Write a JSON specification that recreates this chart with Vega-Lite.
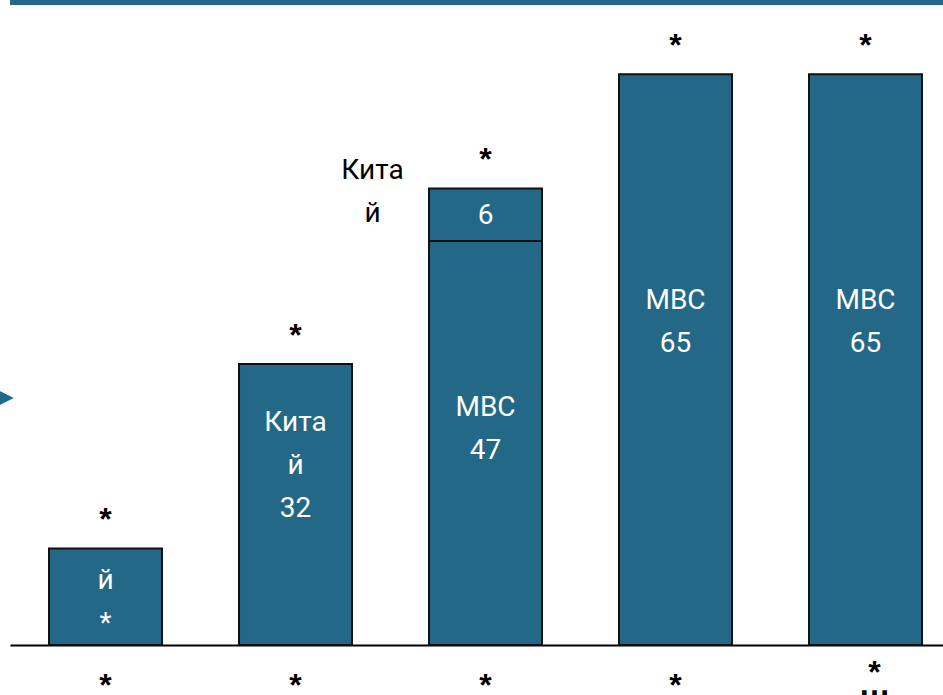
{
  "$schema": "https://vega.github.io/schema/vega-lite/v6.json",
  "width": 933,
  "height": 645,
  "autosize": {"type": "none"},
  "padding": {"left": 10, "top": 0, "right": 0, "bottom": 50},
  "background": "white",
  "config": {"view": {"stroke": null}},
  "data": {
    "values": [
      {"cat": "A", "seg": 1, "value": 11, "label": "Кита\nй\n*", "note": ""},
      {"cat": "B", "seg": 1, "value": 32, "label": "Кита\nй\n32", "note": ""},
      {"cat": "C", "seg": 1, "value": 46, "label": "МВС\n47", "note": ""},
      {"cat": "C", "seg": 2, "value": 6, "label": "6", "note": "Кита\nй"},
      {"cat": "D", "seg": 1, "value": 65, "label": "МВС\n65", "note": ""},
      {"cat": "E", "seg": 1, "value": 65, "label": "МВС\n65", "note": ""}
    ]
  },
  "transform": [
    {"stack": "value", "groupby": ["cat"], "sort": [{"field": "seg", "order": "ascending"}], "as": ["lo", "hi"]},
    {"calculate": "(datum.lo + datum.hi) / 2", "as": "mid"}
  ],
  "layer": [
    {
      "mark": {"type": "bar", "color": "#246888", "stroke": "#111111", "strokeWidth": 2},
      "encoding": {
        "x": {
          "field": "cat", "type": "nominal",
          "scale": {"domain": ["A", "B", "C", "D", "E"], "range": [0, 951], "paddingInner": 0.4053, "paddingOuter": 0.2053},
          "axis": {
            "title": null, "domain": true, "domainColor": "#000000", "domainWidth": 2,
            "ticks": false, "tickSize": 0, "grid": false,
            "labelExpr": "datum.value == 'E' ? ['*', '…'] : '*'",
            "labelFont": "Liberation Sans", "labelFontWeight": "bold", "labelFontSize": 32,
            "labelColor": "#000000", "labelAngle": 0, "labelLineHeight": 12,
            "labelOffset": {"condition": {"test": "datum.value == 'E'", "value": 9}, "value": 0},
            "labelPadding": {"condition": {"test": "datum.value == 'E'", "value": 12}, "value": 25}
          }
        },
        "y": {
          "field": "lo", "type": "quantitative",
          "scale": {"domain": [0, 73.46], "nice": false, "zero": true},
          "axis": {
            "title": null, "values": [28.25], "labelExpr": "'▶'", "domain": false,
            "ticks": false, "tickSize": 0, "grid": false,
            "labelFont": "DejaVu Sans", "labelFontSize": 19, "labelColor": "#246888", "labelPadding": -3
          }
        },
        "y2": {"field": "hi"}
      }
    },
    {
      "mark": {"type": "rule", "color": "#246888", "strokeWidth": 5},
      "encoding": {"y": {"datum": 73.2, "type": "quantitative"}}
    },
    {
      "transform": [{"filter": "datum.seg == 1 && (datum.cat == 'A' || datum.cat == 'D' || datum.cat == 'E')"}],
      "mark": {"type": "text", "color": "white", "font": "Roboto", "fontSize": 28, "lineBreak": "\n", "lineHeight": 43, "baseline": "middle", "align": "center", "dy": -59},
      "encoding": {
        "x": {"field": "cat", "type": "nominal"},
        "y": {"field": "mid", "type": "quantitative"},
        "text": {"field": "label"}
      }
    },
    {
      "transform": [{"filter": "datum.seg == 1 && datum.cat == 'B'"}],
      "mark": {"type": "text", "color": "white", "font": "Roboto", "fontSize": 28, "lineBreak": "\n", "lineHeight": 43, "baseline": "middle", "align": "center", "dy": -82},
      "encoding": {
        "x": {"field": "cat", "type": "nominal"},
        "y": {"field": "mid", "type": "quantitative"},
        "text": {"field": "label"}
      }
    },
    {
      "transform": [{"filter": "datum.seg == 1 && datum.cat == 'C'"}],
      "mark": {"type": "text", "color": "white", "font": "Roboto", "fontSize": 28, "lineBreak": "\n", "lineHeight": 43, "baseline": "middle", "align": "center", "dy": -35},
      "encoding": {
        "x": {"field": "cat", "type": "nominal"},
        "y": {"field": "mid", "type": "quantitative"},
        "text": {"field": "label"}
      }
    },
    {
      "transform": [{"filter": "datum.seg == 2"}],
      "mark": {"type": "text", "color": "white", "font": "Roboto", "fontSize": 28, "baseline": "middle", "align": "center", "dy": 1},
      "encoding": {
        "x": {"field": "cat", "type": "nominal"},
        "y": {"field": "mid", "type": "quantitative"},
        "text": {"field": "label"}
      }
    },
    {
      "transform": [{"filter": "datum.note != ''"}],
      "mark": {"type": "text", "color": "black", "font": "Roboto", "fontSize": 28, "lineBreak": "\n", "lineHeight": 43, "baseline": "middle", "align": "center", "dx": -113, "dy": -44},
      "encoding": {
        "x": {"field": "cat", "type": "nominal"},
        "y": {"field": "mid", "type": "quantitative"},
        "text": {"field": "note"}
      }
    },
    {
      "transform": [{"aggregate": [{"op": "max", "field": "hi", "as": "total"}], "groupby": ["cat"]}],
      "mark": {"type": "text", "color": "black", "font": "Liberation Sans", "fontWeight": "bold", "fontSize": 32, "baseline": "middle", "align": "center", "dy": -28},
      "encoding": {
        "x": {"field": "cat", "type": "nominal"},
        "y": {"field": "total", "type": "quantitative"},
        "text": {"value": "*"}
      }
    }
  ]
}
